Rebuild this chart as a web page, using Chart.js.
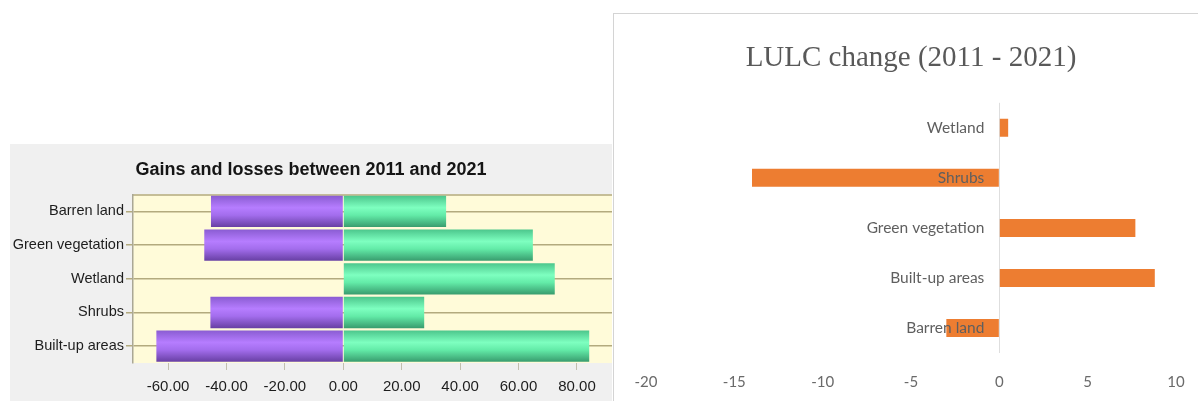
<!DOCTYPE html>
<html>
<head>
<meta charset="utf-8">
<title>LULC gains, losses and change 2011-2021</title>
<script src="https://cdn.jsdelivr.net/npm/chart.js@4/dist/chart.umd.min.js"></script>
<style>
  html, body { margin: 0; padding: 0; background: #fff; }
  body { width: 1198px; height: 401px; position: relative; overflow: hidden; }
  #gainsPanel { position: absolute; left: 10px; top: 144px; width: 602px; height: 257px; background: #f0f0f0; }
  #changePanel { position: absolute; left: 613px; top: 13px; width: 585px; height: 388px;
                 border-left: 1px solid #d4d4d4; border-top: 1px solid #d4d4d4; box-sizing: border-box; }
  canvas { position: absolute; left: 0; top: 0; }
</style>
</head>
<body>
<div id="gainsPanel"><canvas id="gainsChart" width="602" height="257"></canvas></div>
<div id="changePanel"><canvas id="changeChart" width="594" height="387"></canvas></div>

<script>
// Gains and losses per class (top to bottom)
const gainCategories = ['Barren land', 'Green vegetation', 'Wetland', 'Shrubs', 'Built-up areas'];
const losses = [-45.3, -47.6, 0, -45.5, -64.0];
const gains = [35.2, 64.9, 72.4, 27.7, 84.2];
const gainTicks = [-60, -40, -20, 0, 20, 40, 60, 80];

// Net LULC change per class (top to bottom)
const changeCategories = ['Wetland', 'Shrubs', 'Green vegetation', 'Built-up areas', 'Barren land'];
const changeValues = [0.5, -14, 7.7, 8.8, -3];
const changeTicks = [-20, -15, -10, -5, 0, 5, 10];

const BAR_FILL = 0.93;
const sans = "'Liberation Sans', Arial, sans-serif";
const calibriLike = "Lato, 'Open Sans', sans-serif";

// Cylinder-like shading across the bar thickness
function barGradient(stops) {
    return (ctx) => {
        const chart = ctx.chart;
        const yScale = chart.scales.y;
        if (!chart.chartArea || !yScale || ctx.dataIndex === undefined) return stops[1];
        const band = chart.chartArea.height / gainCategories.length;
        const half = band * BAR_FILL / 2;
        const c = yScale.getPixelForValue(ctx.dataIndex);
        const g = chart.ctx.createLinearGradient(0, c - half, 0, c + half);
        g.addColorStop(0, stops[0]);
        g.addColorStop(0.38, stops[1]);
        g.addColorStop(0.62, stops[2]);
        g.addColorStop(1, stops[3]);
        return g;
    };
}

// Yellow plot background plus the top frame line
const plotFrame = {
    id: 'plotFrame',
    beforeDraw(chart) {
        const {ctx, chartArea: a} = chart;
        ctx.save();
        ctx.fillStyle = '#fffbd9';
        ctx.fillRect(a.left, a.top, a.right - a.left, a.bottom - a.top);
        ctx.strokeStyle = '#b3aa7e';
        ctx.lineWidth = 1.5;
        ctx.beginPath();
        ctx.moveTo(a.left, a.top + 0.5);
        ctx.lineTo(a.right, a.top + 0.5);
        ctx.stroke();
        ctx.restore();
    }
};

new Chart(document.getElementById('gainsChart'), {
    type: 'bar',
    data: {
        labels: gainCategories,
        datasets: [{
            label: 'Losses',
            data: losses,
            backgroundColor: barGradient(['#8a5cd2', '#b67dff', '#a36ded', '#673fa3'])
        }, {
            label: 'Gains',
            data: gains,
            backgroundColor: barGradient(['#4cc68c', '#7effc0', '#63eba8', '#389c6e'])
        }]
    },
    options: {
        indexAxis: 'y',
        responsive: false,
        animation: false,
        categoryPercentage: BAR_FILL,
        barPercentage: 1,
        layout: { padding: 0 },
        plugins: {
            legend: { display: false },
            tooltip: { enabled: false },
            title: {
                display: true,
                text: 'Gains and losses between 2011 and 2021',
                color: '#151515',
                font: { family: sans, size: 18, weight: 'bold' },
                padding: { top: 15, bottom: 14 }
            }
        },
        scales: {
            x: {
                stacked: true,
                min: -72,
                max: 92,
                afterBuildTicks: (scale) => { scale.ticks = gainTicks.map(v => ({ value: v })); },
                afterFit: (scale) => { scale.height = 38; },
                grid: { drawOnChartArea: false, drawTicks: true, tickLength: 7, color: '#c2bfae' },
                border: { display: false },
                ticks: {
                    padding: 8,
                    color: '#1d1d1d',
                    font: { family: sans, size: 15 },
                    callback: (v) => Number(v).toFixed(2)
                }
            },
            y: {
                stacked: true,
                afterFit: (scale) => { scale.width = 123; },
                grid: { offset: false, color: '#b3aa7e', lineWidth: 1.5, tickLength: 7 },
                border: { color: '#aaa795', width: 1.5 },
                ticks: {
                    padding: 2,
                    color: '#1d1d1d',
                    font: { family: sans, size: 14.5 }
                }
            }
        }
    },
    plugins: [plotFrame]
});

new Chart(document.getElementById('changeChart'), {
    type: 'bar',
    data: {
        labels: changeCategories,
        datasets: [{
            label: 'LULC change',
            data: changeValues,
            backgroundColor: '#ed7d31'
        }]
    },
    options: {
        indexAxis: 'y',
        responsive: false,
        animation: false,
        categoryPercentage: 0.36,
        barPercentage: 1,
        layout: { padding: { left: 32, right: 32, top: 0, bottom: 0 } },
        plugins: {
            legend: { display: false },
            tooltip: { enabled: false },
            title: {
                display: true,
                text: 'LULC change (2011 - 2021)',
                color: '#595959',
                font: { family: "'Liberation Serif', 'Times New Roman', serif", size: 29, weight: 'normal' },
                padding: { top: 27, bottom: 27 }
            }
        },
        scales: {
            x: {
                min: -20,
                max: 10,
                afterBuildTicks: (scale) => { scale.ticks = changeTicks.map(v => ({ value: v })); },
                afterFit: (scale) => { scale.height = 48; },
                // only the zero line is drawn
                grid: {
                    drawTicks: false,
                    color: (c) => (c.tick && c.tick.value === 0 ? '#dedede' : 'rgba(0,0,0,0)')
                },
                border: { display: false },
                ticks: {
                    padding: 20,
                    color: '#6a6a6a',
                    font: { family: calibriLike, size: 15 }
                }
            },
            y: {
                // category labels sit just left of the zero line
                position: { x: -0.85 },
                grid: { display: false, drawTicks: false },
                border: { display: false },
                ticks: {
                    z: 1,
                    color: '#5f5f5f',
                    font: { family: calibriLike, size: 15.5 }
                }
            }
        }
    }
});
</script>
</body>
</html>
